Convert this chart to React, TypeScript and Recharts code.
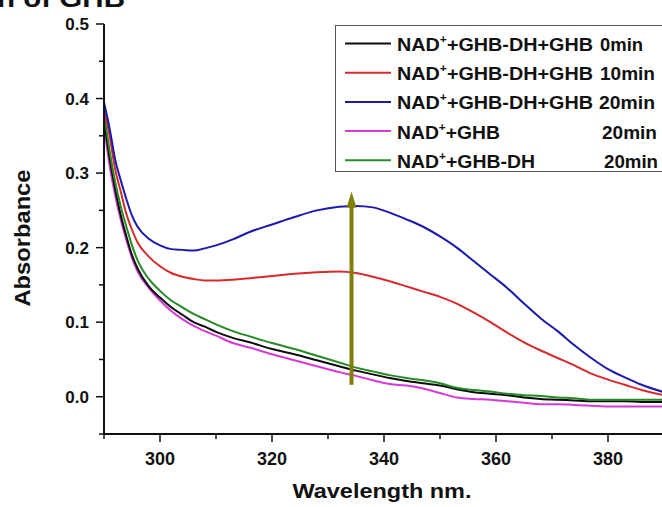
import { LineChart, Line, XAxis, YAxis, Legend, ReferenceLine } from 'recharts';

// wavelength (nm) and absorbance
const wavelengths = [
    290, 291, 292, 293, 294, 295, 296, 298, 300, 302, 304, 306, 308, 310, 313, 316, 320, 324, 328, 332,
    335, 338, 341, 344, 347, 350, 353, 356, 359, 362, 365, 368, 371, 374, 377, 380, 383, 386, 390,
];
const full0min = [
    0.372, 0.32, 0.278, 0.243, 0.215, 0.19, 0.172, 0.148, 0.133, 0.12, 0.11, 0.1, 0.094, 0.087, 0.079, 0.073, 0.064, 0.057, 0.049, 0.041,
    0.035, 0.03, 0.025, 0.021, 0.018, 0.015, 0.01, 0.006, 0.004, 0.002, -0.001, -0.003, -0.004, -0.005, -0.006, -0.006, -0.006, -0.007, -0.007,
];
const full10min = [
    0.388, 0.35, 0.305, 0.275, 0.245, 0.224, 0.207, 0.188, 0.175, 0.166, 0.161, 0.158, 0.156, 0.156, 0.157, 0.159, 0.162, 0.165, 0.167, 0.168,
    0.166, 0.161, 0.155, 0.148, 0.141, 0.134, 0.125, 0.113, 0.1, 0.086, 0.073, 0.062, 0.052, 0.042, 0.031, 0.023, 0.016, 0.009, 0.002,
];
const full20min = [
    0.395, 0.36, 0.318, 0.29, 0.265, 0.243, 0.228, 0.212, 0.203, 0.198, 0.197, 0.196, 0.199, 0.203, 0.211, 0.221, 0.231, 0.241, 0.25, 0.255,
    0.256, 0.254, 0.247, 0.238, 0.228, 0.215, 0.2, 0.182, 0.164, 0.146, 0.125, 0.105, 0.088, 0.069, 0.052, 0.037, 0.026, 0.016, 0.006,
];
const noEnzyme20min = [
    0.365, 0.31, 0.27, 0.237, 0.21, 0.186, 0.168, 0.146, 0.129, 0.115, 0.104, 0.095, 0.088, 0.082, 0.072, 0.066, 0.057, 0.049, 0.041, 0.033,
    0.028, 0.022, 0.017, 0.015, 0.011, 0.005, -0.001, -0.003, -0.004, -0.006, -0.008, -0.01, -0.01, -0.011, -0.012, -0.013, -0.013, -0.013, -0.013,
];
const noSubstrate20min = [
    0.382, 0.33, 0.288, 0.255, 0.228, 0.203, 0.183, 0.158, 0.142, 0.129, 0.12, 0.111, 0.104, 0.097, 0.088, 0.081, 0.072, 0.064, 0.055, 0.046,
    0.039, 0.034, 0.029, 0.025, 0.022, 0.018, 0.012, 0.009, 0.007, 0.004, 0.002, 0.001, -0.001, -0.002, -0.004, -0.004, -0.004, -0.004, -0.004,
];

const legendNames = ['+GHB-DH+GHB', '+GHB-DH+GHB', '+GHB-DH+GHB', '+GHB', '+GHB-DH'];
const legendTimes = ['0min', '10min', '20min', '20min', '20min'];

const xTicks = [290, 300, 310, 320, 330, 340, 350, 360, 370, 380, 390];
const yTicks = [-0.05, 0, 0.05, 0.1, 0.15, 0.2, 0.25, 0.3, 0.35, 0.4, 0.45, 0.5];

// arrow marking the rise of the 340 nm band
const arrowX = 334.2;
const arrowFrom = 0.016;
const arrowTo = 0.275;

const data = wavelengths.map((w, i) => ({
    w,
    t0: full0min[i],
    t10: full10min[i],
    t20: full20min[i],
    nadGhb: noEnzyme20min[i],
    nadDh: noSubstrate20min[i],
}));

const COLORS = ['#0d0d0d', '#d82a2a', '#1a1ab0', '#d63ad6', '#268a26'];
const FONT = '"Liberation Sans", Arial, sans-serif';

const XTick = ({ x, y, payload }: any) => {
    const v = payload.value;
    const major = v % 20 === 0;
    return (
        <g>
            <line x1={x} x2={x} y1={y} y2={y + (major ? 8 : 5)} stroke="#111" strokeWidth={1.5} />
            {major && (
                <text x={x} y={y + 31} textAnchor="middle" fontSize={18} fontWeight="bold" fontFamily={FONT} fill="#111">
                    {v}
                </text>
            )}
        </g>
    );
};

const YTick = ({ x, y, payload }: any) => {
    const v = payload.value;
    const major = Math.abs(v * 10 - Math.round(v * 10)) < 1e-6;
    return (
        <g>
            <line x1={x - (major ? 8 : 5)} x2={x} y1={y} y2={y} stroke="#111" strokeWidth={1.5} />
            {major && (
                <text x={x - 15} y={y + 6} textAnchor="end" fontSize={17} fontWeight="bold" fontFamily={FONT} fill="#111">
                    {v.toFixed(1)}
                </text>
            )}
        </g>
    );
};

const Arrow = ({ x1, y1, x2, y2 }: any) => (
    <g>
        <line x1={x1} y1={y1} x2={x2} y2={y2 + 14} stroke="#7f7f0a" strokeWidth={4} />
        <polygon points={`${x2 - 5},${y2 + 16} ${x2 + 5},${y2 + 16} ${x2},${y2}`} fill="#7f7f0a" />
    </g>
);

const nameWidths = [196, 196, 196, 103, 138];
const timeX = [600, 600, 599, 602, 604];
const timeWidths = [43, 55, 56, 55, 54];

const LegendBox = () => (
    <svg width={662} height={180} style={{ display: 'block' }}>
        <rect x={335.5} y={25.5} width={340} height={146} fill="#fff" stroke="#555" strokeWidth={1} />
        {legendNames.map((name, i) => {
            const ly = 43.5 + i * 29.2;
            return (
                <g key={i} fontFamily={FONT} fontWeight="bold" fill="#111">
                    <line x1={345} x2={391} y1={ly} y2={ly} stroke={COLORS[i]} strokeWidth={2} />
                    <text x={397} y={ly + 7.5} fontSize={18} textLength={nameWidths[i]} lengthAdjust="spacingAndGlyphs">
                        NAD
                        <tspan fontSize={11} dy={-8}>+</tspan>
                        <tspan dy={8}>{name}</tspan>
                    </text>
                    <text x={timeX[i]} y={ly + 7.5} fontSize={18} textLength={timeWidths[i]} lengthAdjust="spacingAndGlyphs">
                        {legendTimes[i]}
                    </text>
                </g>
            );
        })}
    </svg>
);

export default function App() {
    return (
        <div style={{ position: 'absolute', left: 0, top: 0, width: 662, height: 507, overflow: 'hidden', background: '#fff' }}>
            <svg width={662} height={12} style={{ position: 'absolute', left: 0, top: 0 }}>
                <text x={-3} y={7} fontSize={26} fontWeight="bold" fontFamily={FONT} fill="#111" textLength={128} lengthAdjust="spacingAndGlyphs">
                    n of GHB
                </text>
            </svg>
            <LineChart width={666} height={507} data={data} margin={{ top: 24, right: 2, left: 44, bottom: 0 }}>
                <XAxis
                    dataKey="w"
                    type="number"
                    domain={[290, 390]}
                    ticks={xTicks}
                    interval={0}
                    height={73}
                    tickSize={0}
                    tickMargin={0}
                    tickLine={false}
                    tick={<XTick />}
                    axisLine={{ stroke: '#111', strokeWidth: 2 }}
                    label={() => (
                        <text x={382} y={498} textAnchor="middle" fontSize={21} fontWeight="bold" fontFamily={FONT} fill="#111" textLength={179} lengthAdjust="spacingAndGlyphs">
                            Wavelength nm.
                        </text>
                    )}
                />
                <YAxis
                    type="number"
                    domain={[-0.05, 0.5]}
                    ticks={yTicks}
                    interval={0}
                    width={60}
                    tickSize={0}
                    tickMargin={0}
                    tickLine={false}
                    tick={<YTick />}
                    axisLine={{ stroke: '#111', strokeWidth: 2 }}
                    label={() => (
                        <text x={0} y={0} transform="translate(30,238) rotate(-90)" textAnchor="middle" fontSize={22} fontWeight="bold" fontFamily={FONT} fill="#111" textLength={137} lengthAdjust="spacingAndGlyphs">
                            Absorbance
                        </text>
                    )}
                />
                <Line type="monotone" dataKey="nadGhb" stroke={COLORS[3]} strokeWidth={2} dot={false} isAnimationActive={false} />
                <Line type="monotone" dataKey="t0" stroke={COLORS[0]} strokeWidth={2} dot={false} isAnimationActive={false} />
                <Line type="monotone" dataKey="nadDh" stroke={COLORS[4]} strokeWidth={2} dot={false} isAnimationActive={false} />
                <Line type="monotone" dataKey="t10" stroke={COLORS[1]} strokeWidth={2} dot={false} isAnimationActive={false} />
                <Line type="monotone" dataKey="t20" stroke={COLORS[2]} strokeWidth={2} dot={false} isAnimationActive={false} />
                <ReferenceLine
                    segment={[{ x: arrowX, y: arrowFrom }, { x: arrowX, y: arrowTo }]}
                    shape={<Arrow />}
                />
                <Legend
                    layout="horizontal"
                    align="center"
                    verticalAlign="middle"
                    wrapperStyle={{ left: 0, top: 0, width: 662, height: 180, pointerEvents: 'none' }}
                    content={() => <LegendBox />}
                />
            </LineChart>
        </div>
    );
}
